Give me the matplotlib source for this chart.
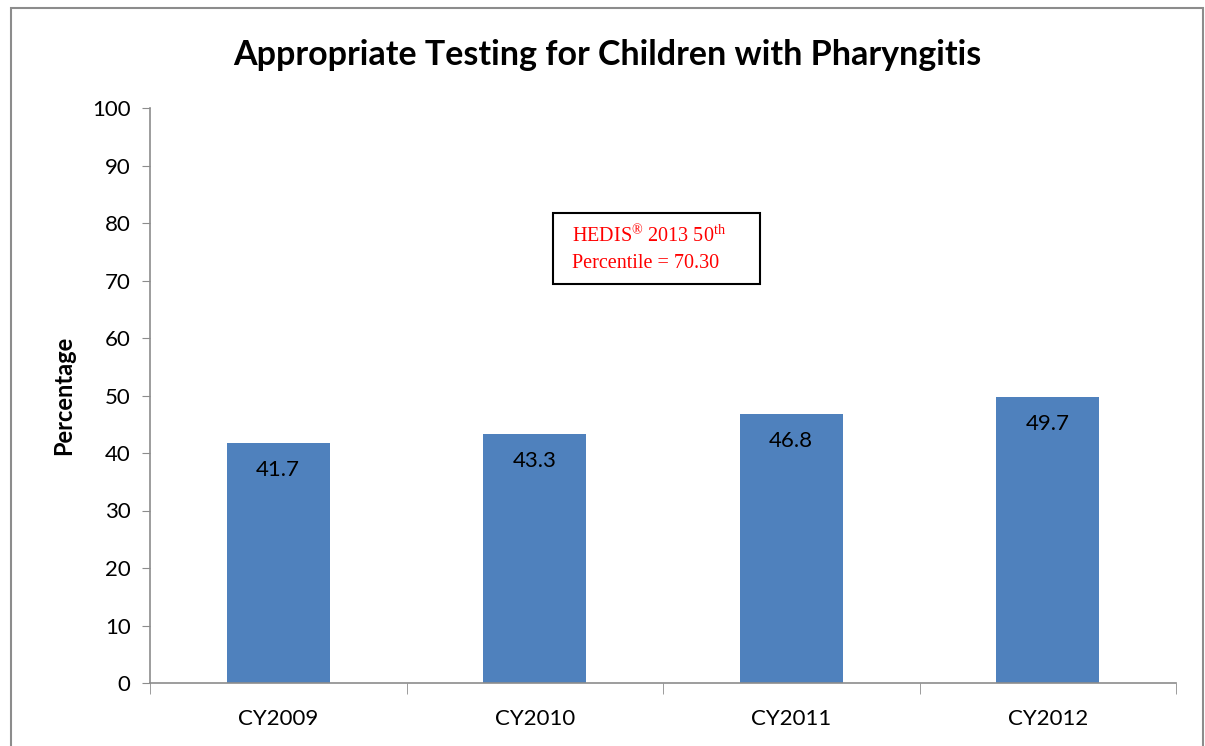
import matplotlib.pyplot as plt
from matplotlib.patches import Rectangle

# chart data
years = ['CY2009', 'CY2010', 'CY2011', 'CY2012']
rates = [41.7, 43.3, 46.8, 49.7]
y_ticks = list(range(0, 101, 10))

plt.rcParams['font.family'] = ['Lato', 'DejaVu Sans']
plt.rcParams['mathtext.fontset'] = 'custom'
plt.rcParams['mathtext.rm'] = 'Liberation Serif'
plt.rcParams['mathtext.it'] = 'Liberation Serif:italic'
plt.rcParams['mathtext.bf'] = 'Liberation Serif:bold'

fig = plt.figure(figsize=(12.05, 7.46), dpi=100)
ax = fig.add_axes([150 / 1205, 1 - 683 / 746, (1176 - 150) / 1205, (683 - 108) / 746])

# gray outer chart border like the Excel chart area
fig.patches.append(Rectangle((11 / 1205, -0.01), (1203 - 11) / 1205, 1 - 8 / 746 + 0.01,
                             transform=fig.transFigure, fill=False,
                             edgecolor='#8c8c8c', linewidth=1.5))

x = list(range(len(years)))
bars = ax.bar(x, rates, width=0.4, color='#4f81bd')

for xi, v in zip(x, rates):
    ax.text(xi, v - 2.9, f'{v}', ha='center', va='top', fontsize=16)

ax.set_xlim(-0.5, len(years) - 0.5)
ax.set_ylim(0, 100)
ax.set_yticks(y_ticks)
ax.tick_params(axis='y', labelsize=16, length=6, color='#8c8c8c', pad=8)

# category labels centered, ticks at category boundaries
ax.set_xticks(x)
ax.set_xticklabels(years, fontsize=16)
ax.tick_params(axis='x', length=0, pad=19)
ax.set_xticks([i - 0.5 for i in range(len(years) + 1)], minor=True)
ax.tick_params(axis='x', which='minor', length=8, color='#8c8c8c')

for side in ['top', 'right']:
    ax.spines[side].set_visible(False)
for side in ['left', 'bottom']:
    ax.spines[side].set_color('#8c8c8c')
    ax.spines[side].set_linewidth(1.2)

ax.set_ylabel('Percentage', fontsize=17, fontweight='bold', labelpad=12)
fig.text(607 / 1205, 1 - 55 / 746, 'Appropriate Testing for Children with Pharyngitis',
         ha='center', va='center', fontsize=24.5, fontweight='bold')

# annotation box
ax.add_patch(Rectangle((1.071, 69.4), 0.807, 12.3, fill=False, edgecolor='black', linewidth=1.5))
ax.text(1.145, 77.8, r'HEDIS$^{\mathrm{®}}$ 2013 50$^{\mathrm{th}}$', color='red', fontsize=14.5,
        family='Liberation Serif', va='center')
ax.text(1.145, 72.9, 'Percentile = 70.30', color='red', fontsize=14.5,
        family='Liberation Serif', va='center')

fig.savefig('out.png', dpi=100)
